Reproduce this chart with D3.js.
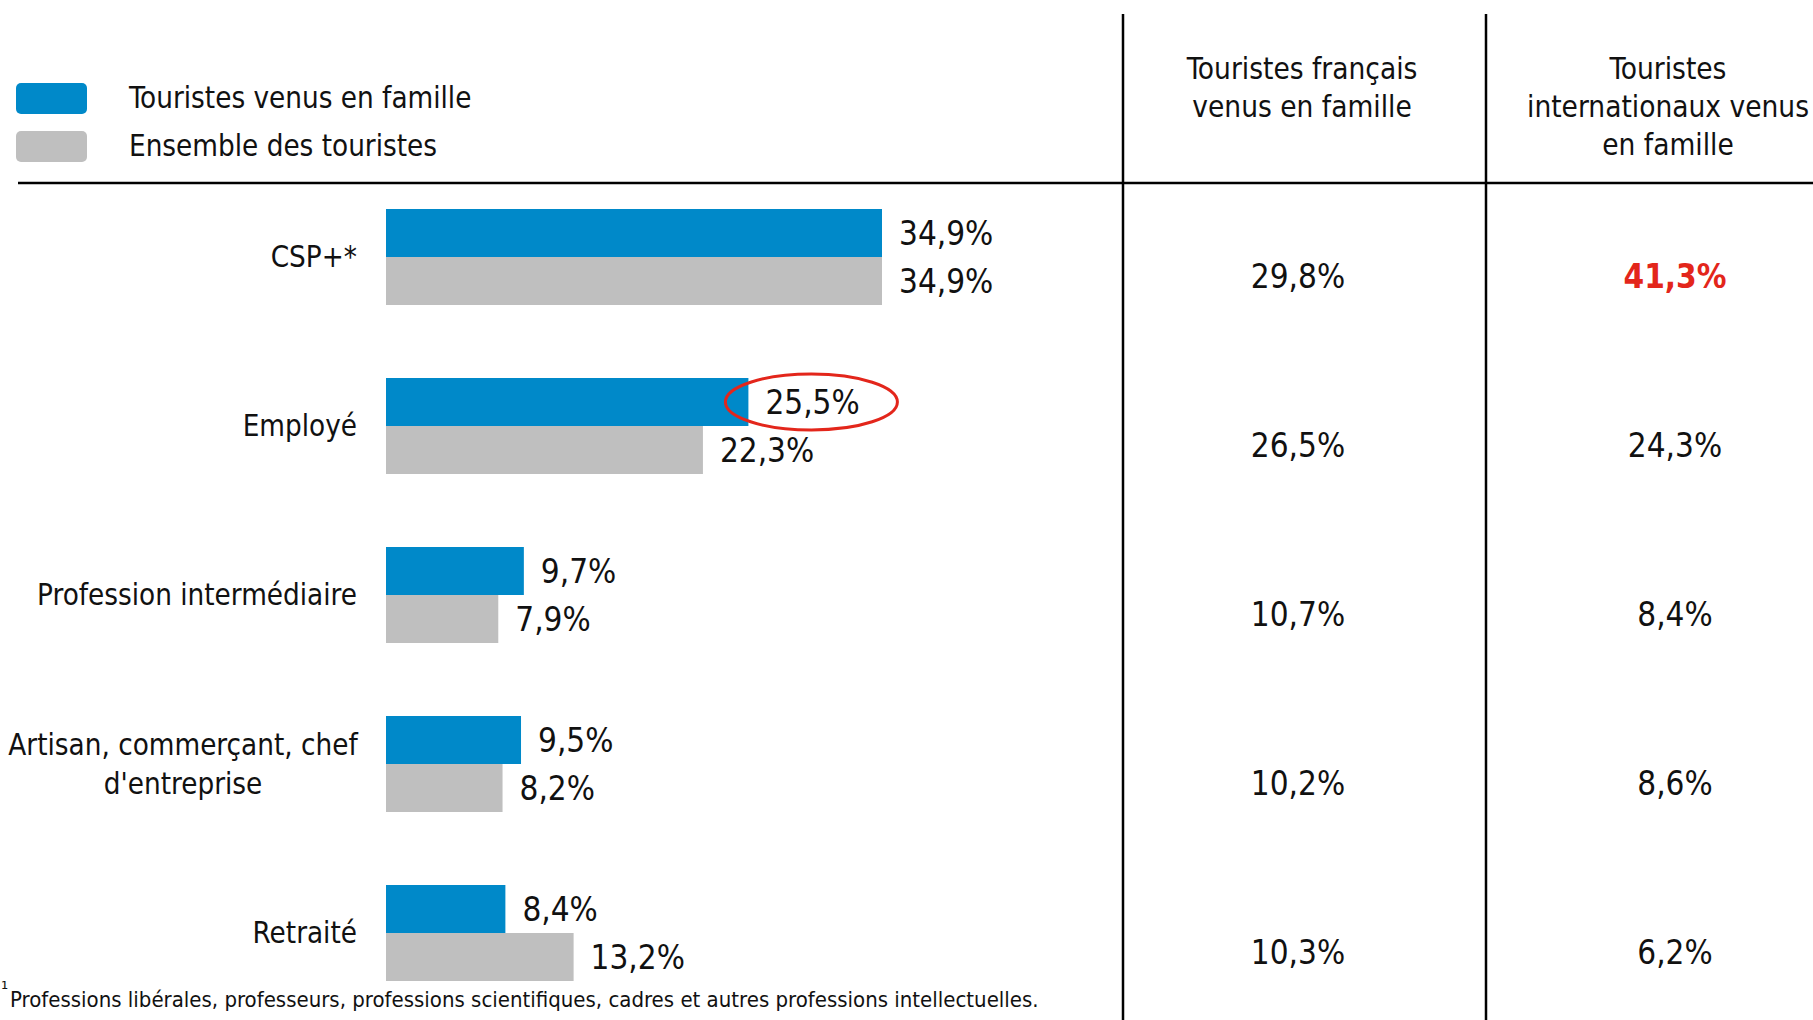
<!DOCTYPE html>
<html>
<head>
<meta charset="utf-8">
<script src="https://cdn.jsdelivr.net/npm/d3@7"></script>
<style>
  body { margin: 0; background: #fff; }
  svg text { font-family: "Liberation Sans Narrow", "DejaVu Sans Condensed", "Roboto", sans-serif; fill: #111; }
</style>
</head>
<body>
<div id="chart"></div>
<script>
// categories and series
const categories = ["CSP+*", "Employé", "Profession intermédiaire", "Artisan, commerçant, chef d'entreprise", "Retraité"]
const categoryLines = [["CSP+*"], ["Employé"], ["Profession intermédiaire"], ["Artisan, commerçant, chef", "d'entreprise"], ["Retraité"]]
const famille = [34.9, 25.5, 9.7, 9.5, 8.4]
const ensemble = [34.9, 22.3, 7.9, 8.2, 13.2]
const francais = [29.8, 26.5, 10.7, 10.2, 10.3]
const internationaux = [41.3, 24.3, 8.4, 8.6, 6.2]
const seriesNames = ["Touristes venus en famille", "Ensemble des touristes"]
const colHeaders = [["Touristes français", "venus en famille"], ["Touristes", "internationaux venus", "en famille"]]
const footnote = "Professions libérales, professeurs, professions scientifiques, cadres et autres professions intellectuelles."

const width = 1813, height = 1020
const blue = "#0089c9", grey = "#bfbfbf", red = "#e3261b"
const fmt = v => d3.format(".1f")(v).replace(".", ",") + "%"

const svg = d3.select("#chart").append("svg")
  .attr("width", width).attr("height", height)

// scales
const x = d3.scaleLinear().domain([0, 34.9]).range([386, 882])
const y = d3.scaleBand().domain(categories).range([209, 981]).paddingInner(73 / 169)
const ySub = d3.scaleBand().domain(seriesNames).range([0, y.bandwidth()])

// legend
const legend = svg.append("g")
seriesNames.forEach((s, i) => {
  legend.append("rect")
    .attr("x", 16).attr("y", 83 + i * 48)
    .attr("width", 71).attr("height", 31).attr("rx", 5)
    .attr("fill", i == 0 ? blue : grey)
  legend.append("text")
    .attr("x", 129).attr("y", 98 + i * 48)
    .attr("dy", "0.35em")
    .attr("font-size", 29.3)
    .text(s)
})

// table lines
svg.append("line").attr("x1", 18).attr("x2", width).attr("y1", 183).attr("y2", 183)
  .attr("stroke", "#000").attr("stroke-width", 2.5)
const colX = [1123, 1486]
colX.forEach(cx => {
  svg.append("line").attr("x1", cx).attr("x2", cx).attr("y1", 14).attr("y2", height)
    .attr("stroke", "#000").attr("stroke-width", 2.5)
})

// column headers
const colCenter = [1302, 1668]
colHeaders.forEach((lines, c) => {
  lines.forEach((l, i) => {
    svg.append("text")
      .attr("x", colCenter[c]).attr("y", 69 + i * 38)
      .attr("dy", "0.35em")
      .attr("text-anchor", "middle")
      .attr("font-size", 29.5)
      .text(l)
  })
})

// bars
const groups = svg.selectAll(".grp").data(categories).enter().append("g")
  .attr("class", "grp")
  .attr("transform", d => `translate(0,${y(d)})`)

const valueX = [1298, 1675]
groups.each(function (cat, i) {
  const g = d3.select(this)
  const vals = [famille[i], ensemble[i]]
  vals.forEach((v, k) => {
    g.append("rect")
      .attr("x", x(0)).attr("y", ySub(seriesNames[k]))
      .attr("width", x(v) - x(0)).attr("height", ySub.bandwidth())
      .attr("fill", k == 0 ? blue : grey)
    g.append("text")
      .attr("x", x(v) + 17)
      .attr("y", ySub(seriesNames[k]) + ySub.bandwidth() / 2)
      .attr("dy", "0.35em")
      .attr("font-size", 33)
      .text(fmt(v))
  })
  // category label
  const lines = categoryLines[i]
  lines.forEach((l, j) => {
    g.append("text")
      .attr("x", lines.length > 1 ? 183 : 357)
      .attr("y", y.bandwidth() / 2 + (j - (lines.length - 1) / 2) * 39)
      .attr("dy", "0.35em")
      .attr("text-anchor", lines.length > 1 ? "middle" : "end")
      .attr("font-size", 29.3)
      .text(l)
  })
  // table values
  ;[francais[i], internationaux[i]].forEach((v, c) => {
    g.append("text")
      .attr("x", valueX[c])
      .attr("y", y.bandwidth() / 2 + 19)
      .attr("dy", "0.35em")
      .attr("text-anchor", "middle")
      .attr("font-size", 33)
      .attr("font-weight", c == 1 && i == 0 ? "bold" : null)
      .style("fill", c == 1 && i == 0 ? red : null)
      .text(fmt(v))
  })
})

// highlight ellipse around Employé famille value
const hi = 1
svg.append("ellipse")
  .attr("cx", x(famille[hi]) + 63)
  .attr("cy", y(categories[hi]) + ySub(seriesNames[0]) + ySub.bandwidth() / 2)
  .attr("rx", 86).attr("ry", 28)
  .attr("fill", "none").attr("stroke", red).attr("stroke-width", 3)

// footnote
svg.append("text").attr("x", 1).attr("y", 996).attr("font-size", 20).text("¹")
svg.append("text").attr("x", 10).attr("y", 999).attr("dy", "0.35em")
  .attr("font-size", 22).text(footnote)
</script>
</body>
</html>
